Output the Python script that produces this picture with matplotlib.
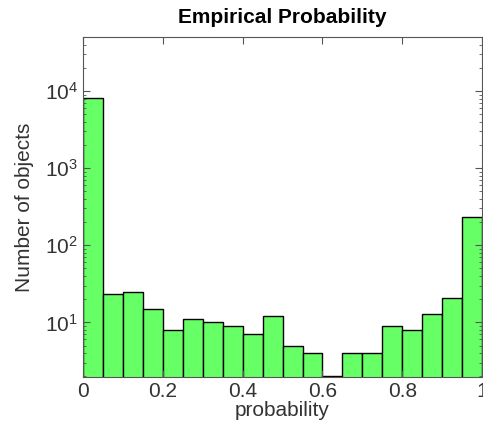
import numpy as np
import matplotlib
matplotlib.use("Agg")
import matplotlib.pyplot as plt
from matplotlib.ticker import FixedLocator, LogLocator, NullFormatter

plt.rcParams['font.family'] = ['Liberation Sans', 'DejaVu Sans']

# histogram data: 20 bins over [0, 1]
bin_edges = np.linspace(0, 1, 21)
counts = [8100, 23, 25, 15, 8, 11, 10, 9, 7, 12,
          5, 4, 2, 4, 4, 9, 8, 13, 21, 230]
x_ticks = [0, 0.2, 0.4, 0.6, 0.8, 1]
x_tick_labels = ["0", "0.2", "0.4", "0.6", "0.8", "1"]

fig = plt.figure(figsize=(4.83, 4.32), dpi=100)
ax = fig.add_axes([0.172, 0.127, 0.826, 0.787])

ax.bar(bin_edges[:-1], counts, width=np.diff(bin_edges), align="edge",
       color="#66ff66", edgecolor="black", linewidth=1.0)

ax.set_yscale("log")
ax.set_xlim(0, 1)
ax.set_ylim(1.95, 5e4)
ax.set_xticks(x_ticks)
ax.set_xticklabels(x_tick_labels)
ax.yaxis.set_major_locator(FixedLocator([10, 100, 1000, 10000]))
ax.yaxis.set_minor_locator(LogLocator(base=10, subs=np.arange(2, 10)))
ax.yaxis.set_minor_formatter(NullFormatter())

ax.tick_params(which="both", direction="in", top=True, right=True,
               labelsize=15, color="#555555")
ax.tick_params(which="major", length=5)
ax.tick_params(which="minor", length=2.5)
for s in ax.spines.values():
    s.set_color("#555555")

ax.set_xlabel("probability", fontsize=15, labelpad=0, color="#333333")
ax.set_ylabel("Number of objects", fontsize=15, labelpad=8, color="#333333")
ax.set_title("Empirical Probability", fontsize=15, fontweight="bold", pad=10)
for lab in ax.get_xticklabels() + ax.get_yticklabels():
    lab.set_color("#333333")

fig.savefig("out.png", dpi=100)
